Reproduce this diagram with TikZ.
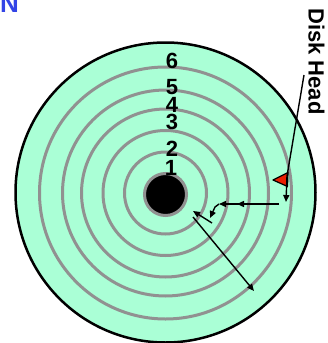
\documentclass[tikz,border=0pt]{standalone}
\usepackage{fontspec}
\setmainfont{Liberation Sans}
\usetikzlibrary{arrows.meta,calc}
\definecolor{mint}{RGB}{170,255,214}
\definecolor{ringgray}{RGB}{145,145,145}
\definecolor{nblue}{RGB}{51,68,230}
\definecolor{headred}{RGB}{235,30,0}
\begin{document}
\begin{tikzpicture}[x=1pt,y=-1pt,
  track/.style={circle,draw=ringgray,line width=3pt,inner sep=0pt},
  lbl/.style={font=\bfseries\fontsize{22}{22}\selectfont,inner sep=0pt},
  arr/.style={line width=1.4pt,-{Triangle[length=7pt,width=6pt]}},
  seg/.style={line width=1.4pt}
]
\useasboundingbox (0,0) rectangle (327,343);
\clip (0,0) rectangle (327,343);
\node[font=\bfseries\fontsize{26}{26}\selectfont, text=nblue, anchor=south west, inner sep=0pt] (title) at (0,13) {N};

% disk
\node[circle,draw=black,fill=mint,line width=2.5pt,minimum size=300pt,inner sep=0pt] (disk) at (165.5,192.5) {};
\node[track,minimum size=252pt] (r6) at (165.5,193) {};
\node[track,minimum size=206pt] (r5) at (165.5,193) {};
\node[track,minimum size=168pt] (r4) at (165.5,193) {};
\node[track,minimum size=125pt] (r3) at (165.5,193) {};
\node[track,minimum size=82pt] (r2) at (165.5,193) {};
\node[circle,fill=black,draw=ringgray,line width=3pt,minimum size=42pt,inner sep=0pt] (hub) at (165.5,194.5) {};

% track labels
\node[lbl] (t6) at (172,61) {6};
\node[lbl] (t5) at (172,87) {5};
\node[lbl] (t4) at (172,104.5) {4};
\node[lbl] (t3) at (172,122) {3};
\node[lbl] (t2) at (172,149) {2};
\node[lbl] (t1) at (171,167.5) {1};

% disk head
\node[font=\bfseries\fontsize{22}{22}\selectfont,rotate=-90,inner sep=0pt] (dh) at (316.5,61.5) {Disk Head};
\draw[fill=headred,line width=1.2pt,line join=round] (273,180) -- (288,172.5) -- (287.5,186.5) -- cycle;
\coordinate (p0) at (304,75);
\coordinate (p1) at (287,176);
\coordinate (p2) at (286,202);
\draw[arr] (p0) -- (p1) -- (p2);

% seek path
\coordinate (a0) at (279,204);
\coordinate (a1) at (237,204);
\coordinate (a1b) at (239,204);
\coordinate (a2) at (219,204);
\coordinate (a3) at (215,207);
\coordinate (a4) at (210,218);
\draw[arr] (a0) -- (a1);
\draw[arr] (a1b) -- (a2);
\draw[arr] (a2) -- (a3) -- (a4);
\coordinate (b0) at (212,223);
\coordinate (b1) at (193,211);
\draw[arr] (b0) -- (b1);
\coordinate (c0) at (193,217);
\coordinate (c1) at (254,291);
\draw[arr] (c0) -- (c1);
\end{tikzpicture}
\end{document}
